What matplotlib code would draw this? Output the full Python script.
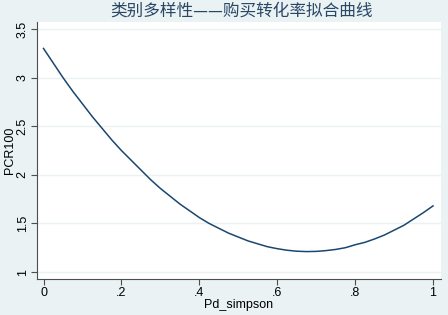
import matplotlib
matplotlib.use("Agg")
import matplotlib.pyplot as plt

# values (Pd_simpson vs PCR100)
pd_simpson = [0.000, 0.025, 0.050, 0.075, 0.100, 0.125, 0.150, 0.175, 0.200, 0.225,
              0.250, 0.275, 0.300, 0.325, 0.350, 0.375, 0.400, 0.425, 0.450, 0.475,
              0.500, 0.525, 0.550, 0.575, 0.600, 0.625, 0.650, 0.675, 0.700, 0.725,
              0.750, 0.775, 0.800, 0.825, 0.850, 0.875, 0.900, 0.925, 0.950, 0.975,
              1.000]
pcr100 = [3.30, 3.15, 3.00, 2.86, 2.73, 2.60, 2.48, 2.36, 2.25, 2.15,
          2.05, 1.95, 1.86, 1.78, 1.70, 1.63, 1.56, 1.50, 1.45, 1.40,
          1.36, 1.32, 1.29, 1.26, 1.24, 1.224, 1.214, 1.21, 1.212, 1.22,
          1.232, 1.25, 1.28, 1.305, 1.34, 1.38, 1.43, 1.48, 1.545, 1.61,
          1.68]

x_ticks = [0, 0.2, 0.4, 0.6, 0.8, 1.0]
x_tick_labels = ["0", ".2", ".4", ".6", ".8", "1"]
y_ticks = [1, 1.5, 2, 2.5, 3, 3.5]
y_tick_labels = ["1", "1.5", "2", "2.5", "3", "3.5"]

title = "类别多样性——购买转化率拟合曲线"

bg = "#EAF2F3"
navy = "#1A476F"
axis_col = "#4d4d4d"
fs = 9

plt.rcParams['font.family'] = ['Liberation Sans', 'DejaVu Sans']

fig = plt.figure(figsize=(4.48, 3.15), dpi=100, facecolor=bg)
ax = fig.add_axes([37 / 448, 36 / 315, 404 / 448, 257 / 315])
ax.set_facecolor("white")

ax.plot(pd_simpson, pcr100, color=navy, linewidth=1.1, zorder=3)

ax.set_xlim(-0.0167, 1.0205)
ax.set_ylim(0.928, 3.572)

ax.set_xticks(x_ticks)
ax.set_xticklabels(x_tick_labels, fontsize=fs)
ax.set_yticks(y_ticks)
ax.set_yticklabels(y_tick_labels, fontsize=fs, rotation=90, va="center")

ax.yaxis.grid(True, color=bg, linewidth=1.0)
ax.set_axisbelow(True)

for s in ["top", "right"]:
    ax.spines[s].set_visible(False)
for s in ["left", "bottom"]:
    ax.spines[s].set_color(axis_col)
    ax.spines[s].set_linewidth(0.8)
ax.tick_params(direction="out", length=4, width=0.8, color=axis_col,
               labelcolor="black", pad=2)

ax.set_xlabel("Pd_simpson", fontsize=fs, va="center")
ax.xaxis.set_label_coords(0.5, -0.102)
ax.set_ylabel("PCR100", fontsize=fs, va="center")
ax.yaxis.set_label_coords(-0.068, 0.5)

fig.text(0.538, 0.965, title, ha="center", va="center", fontsize=12,
         color="#2A4766", family=['Noto Sans CJK SC', 'DejaVu Sans'])

fig.savefig("out.png", dpi=100, facecolor=bg)
